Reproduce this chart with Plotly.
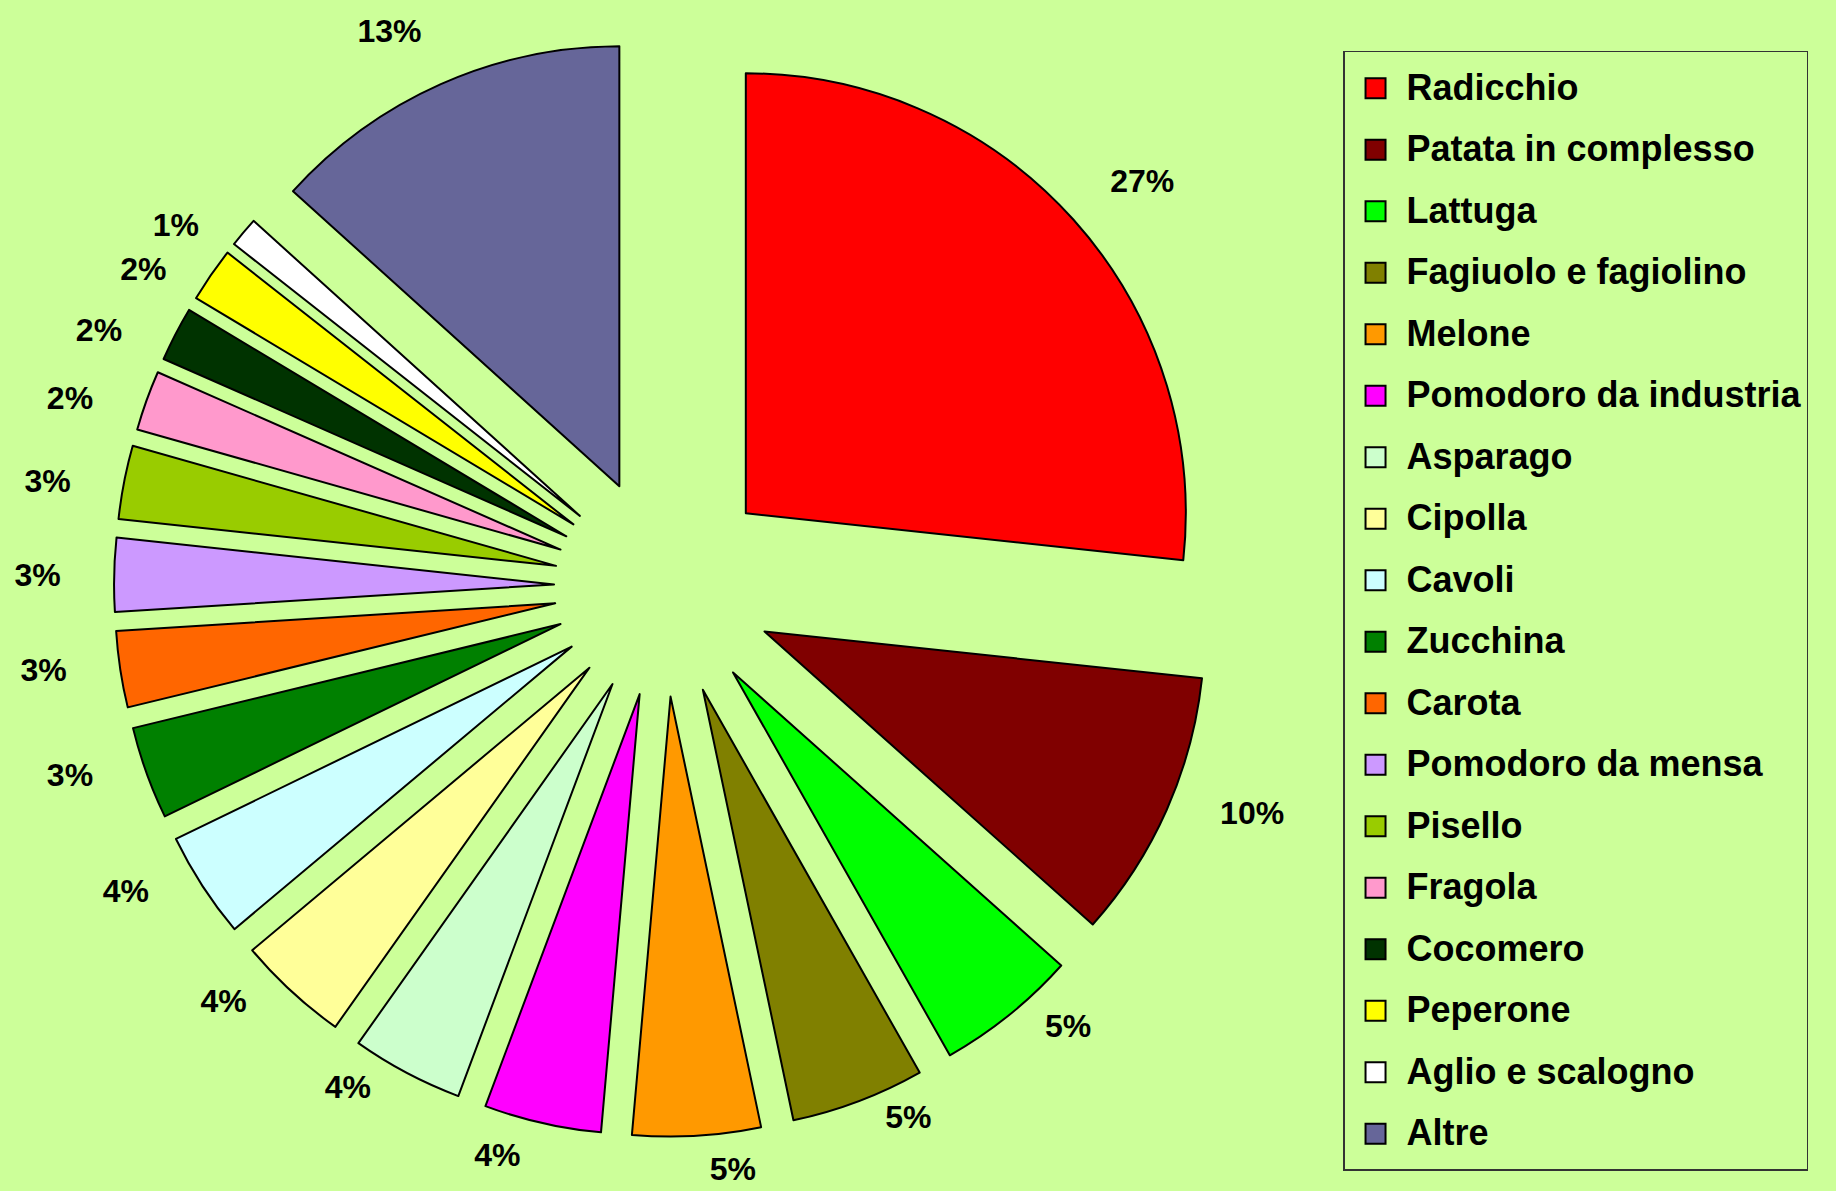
import math
import plotly.graph_objects as go

categories = [
    "Radicchio", "Patata in complesso", "Lattuga", "Fagiuolo e fagiolino",
    "Melone", "Pomodoro da industria", "Asparago", "Cipolla", "Cavoli",
    "Zucchina", "Carota", "Pomodoro da mensa", "Pisello", "Fragola",
    "Cocomero", "Peperone", "Aglio e scalogno", "Altre",
]
shares = [26.7, 9.9, 5.2, 4.9, 4.7, 4.3, 4.1, 4.1, 3.9, 3.4,
          2.8, 2.7, 2.7, 2.2, 2.0, 2.0, 1.1, 13.3]
colors = [
    "#FF0000", "#800000", "#00FF00", "#808000", "#FF9900", "#FF00FF",
    "#CCFFCC", "#FFFF99", "#CCFFFF", "#008000", "#FF6600", "#CC99FF",
    "#99CC00", "#FF99CC", "#003300", "#FFFF00", "#FFFFFF", "#666699",
]

FONT = "Liberation Sans, Arial, sans-serif"
BG = "#CCFF99"
NBSP = "\u00a0"

legend_labels = [
    f'<span style="font-size:36px;baseline-shift:6px">{c}</span>' for c in categories
]

# Label templates: pad each percentage label on the side facing the pie so the
# text sits a little further out, as in the original (Excel-style) chart.
total = sum(shares)
templates = []
cum = 0.0
for v in shares:
    theta = 2 * math.pi * (cum + v / 2) / total  # clockwise from 12 o'clock
    cum += v
    s, c = math.sin(theta), math.cos(theta)
    n = round(5.4 * abs(s))
    top = c > 0.66
    bottom = c < -0.95
    if top:
        n = max(0, n - 2)
    pad = NBSP * n
    core = "%{percent:.0%}"
    t = (pad + core) if s > 0 else (core + pad)
    if top:
        t = t + "<br>" + NBSP
    if bottom:
        t = f'<span style="font-size:3px">{NBSP}</span><br>' + t
    templates.append(t)

fig = go.Figure(
    go.Pie(
        labels=legend_labels,
        values=shares,
        sort=False,
        direction="clockwise",
        rotation=0,
        pull=0.25,
        marker=dict(colors=colors, line=dict(color="black", width=2)),
        textposition="outside",
        texttemplate=templates,
        textfont=dict(family=FONT, size=32, color="black", weight="bold"),
        domain=dict(x=[0.0621, 0.6612], y=[0.0455, 0.9691]),
        hoverinfo="percent",
    )
)

fig.update_layout(
    width=1836,
    height=1191,
    paper_bgcolor=BG,
    plot_bgcolor=BG,
    margin=dict(l=0, r=0, t=0, b=0, autoexpand=False),
    showlegend=True,
    legend=dict(
        x=0.7315,
        y=0.9572,
        xanchor="left",
        yanchor="top",
        bgcolor=BG,
        bordercolor="#333333",
        borderwidth=1.5,
        itemwidth=52,
        font=dict(family=FONT, size=45, color="black", weight="bold"),
        traceorder="normal",
    ),
)

post = (
    "document.body.style.margin='0';"
    "document.body.style.padding='0';"
    "document.body.style.overflow='hidden';"
    "document.querySelectorAll('path.legendpie').forEach(function(p){"
    "p.setAttribute('d','M10,10H-10V-10H10Z');});"
)

fig.write_html(
    "out.html",
    config={"displayModeBar": False},
    post_script=post,
)
